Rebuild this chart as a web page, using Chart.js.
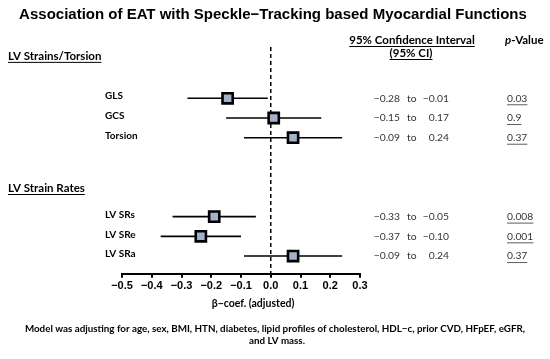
<!DOCTYPE html>
<html>
<head>
<meta charset="utf-8">
<script src="https://cdn.jsdelivr.net/npm/chart.js@4/dist/chart.umd.min.js"></script>
<style>
html,body{margin:0;padding:0;background:#fff;}
#wrap{width:550px;height:359px;}
</style>
</head>
<body>
<div id="wrap"><canvas id="c" width="550" height="359"></canvas></div>
<script>
// ---- data ----
const measures = ['GLS', 'GCS', 'Torsion', 'LV SRs', 'LV SRe', 'LV SRa'];
const rowIndex = [0, 1, 2, 6, 7, 8];
const estimates = [-0.145, 0.01, 0.075, -0.19, -0.235, 0.075];
const ciLow = [-0.28, -0.15, -0.09, -0.33, -0.37, -0.09];
const ciHigh = [-0.01, 0.17, 0.24, -0.05, -0.10, 0.24];
const ciLowText = ['−0.28', '−0.15', '−0.09', '−0.33', '−0.37', '−0.09'];
const ciHighText = ['−0.01', '0.17', '0.24', '−0.05', '−0.10', '0.24'];
const pValues = ['0.03', '0.9', '0.37', '0.008', '0.001', '0.37'];
const groups = [{name: 'LV Strains/Torsion', row: -2.15}, {name: 'LV Strain Rates', row: 4.55}];
const xTickMin = -0.5, xTickMax = 0.3, xTickStep = 0.1;

const fmt = v => {
  if (Math.abs(v) < 1e-9) return '0.0';
  return v.toFixed(1).replace('-', '−');
};

const ciDatasets = measures.map((m, i) => ({
  type: 'line',
  label: m + ' CI',
  data: [{x: ciLow[i], y: rowIndex[i]}, {x: ciHigh[i], y: rowIndex[i]}],
  borderColor: '#000',
  borderWidth: 1.6,
  pointRadius: 0,
  order: 2
}));

const pointDataset = {
  type: 'scatter',
  label: 'β-coef',
  data: measures.map((m, i) => ({x: estimates[i], y: rowIndex[i]})),
  pointStyle: 'rect',
  pointRadius: 7.2,
  backgroundColor: '#a3b2c9',
  borderColor: '#000',
  borderWidth: 2.6,
  order: 1
};

function underline(ctx, x, y, w, lw) {
  ctx.save();
  ctx.beginPath();
  ctx.lineWidth = lw || 1;
  ctx.moveTo(x, y + 0.5);
  ctx.lineTo(x + w, y + 0.5);
  ctx.stroke();
  ctx.restore();
}

const decor = {
  id: 'decor',
  beforeDatasetsDraw(chart) {
    const ctx = chart.ctx, xs = chart.scales.x, a = chart.chartArea;
    const x0 = xs.getPixelForValue(0);
    ctx.save();
    ctx.strokeStyle = '#000';
    ctx.lineWidth = 1.5;
    ctx.setLineDash([4, 3]);
    ctx.beginPath();
    ctx.moveTo(x0, a.top);
    ctx.lineTo(x0, a.bottom);
    ctx.stroke();
    ctx.restore();
  },
  afterDraw(chart) {
    const ctx = chart.ctx, ys = chart.scales.y;
    ctx.save();
    ctx.fillStyle = '#000';
    ctx.strokeStyle = '#000';
    // title
    ctx.textAlign = 'center';
    ctx.textBaseline = 'middle';
    ctx.font = 'bold 15px "Liberation Sans", Arial, sans-serif';
    ctx.fillText('Association of EAT with Speckle−Tracking based Myocardial Functions', 273, 15);

    // group headers
    ctx.textAlign = 'left';
    ctx.font = 'bold 11.5px Lato, "Open Sans", sans-serif';
    groups.forEach(g => {
      const y = ys.getPixelForValue(g.row);
      ctx.fillText(g.name, 8, y);
      const w = ctx.measureText(g.name).width;
      underline(ctx, 8, y + 6, w, 1);
    });

    // column headers
    ctx.font = 'bold 11.5px Lato, "Open Sans", sans-serif';
    ctx.textAlign = 'center';
    const h1 = '95% Confidence Interval', h2 = '(95% CI)';
    ctx.fillText(h1, 412, 40);
    const w1 = ctx.measureText(h1).width;
    underline(ctx, 412 - w1 / 2, 46, w1, 1);
    ctx.fillText(h2, 411, 53);
    const w2 = ctx.measureText(h2).width;
    underline(ctx, 411 - w2 / 2, 59, w2, 1);
    // p-Value
    ctx.textAlign = 'left';
    ctx.font = 'italic bold 11.5px Lato, "Open Sans", sans-serif';
    ctx.fillText('p', 505, 40);
    const pw = ctx.measureText('p').width;
    ctx.font = 'bold 11.5px Lato, "Open Sans", sans-serif';
    ctx.fillText('-Value', 505 + pw, 40);

    // row labels and CI text
    measures.forEach((m, i) => {
      const y = ys.getPixelForValue(rowIndex[i]);
      ctx.fillStyle = '#000';
      ctx.textAlign = 'left';
      ctx.font = 'bold 10px Lato, "Open Sans", sans-serif';
      ctx.fillText(m, 105, y - 2);
      ctx.fillStyle = '#333';
      ctx.font = '10.3px Lato, "Open Sans", sans-serif';
      ctx.textAlign = 'right';
      ctx.fillText(ciLowText[i], 400, y);
      ctx.textAlign = 'left';
      ctx.fillText('to', 407, y);
      ctx.textAlign = 'right';
      ctx.fillText(ciHighText[i], 449, y);
      ctx.textAlign = 'left';
      ctx.fillText(pValues[i], 507, y);
      const pw2 = ctx.measureText(pValues[i]).width;
      ctx.strokeStyle = '#333';
      underline(ctx, 507, y + 6, pw2, 0.8);
    });

    // axis title
    ctx.fillStyle = '#000';
    ctx.textAlign = 'center';
    ctx.font = 'bold 10.5px Lato, "Open Sans", sans-serif';
    ctx.fillText('β−coef. (adjusted)', 253, 304);

    // footnote
    ctx.font = 'bold 9.8px Lato, "Open Sans", sans-serif';
    ctx.fillText('Model was adjusting for age, sex, BMI, HTN, diabetes, lipid profiles of cholesterol, HDL−c, prior CVD, HFpEF, eGFR,', 275, 329);
    ctx.fillText('and LV mass.', 277, 341);
    ctx.restore();
  }
};

new Chart(document.getElementById('c'), {
  data: {datasets: [...ciDatasets, pointDataset]},
  options: {
    responsive: false,
    devicePixelRatio: 1,
    animation: false,
    layout: {padding: {left: 122, right: 190, top: 47, bottom: 64}},
    plugins: {legend: {display: false}, tooltip: {enabled: false}, title: {display: false}},
    scales: {
      x: {
        type: 'linear',
        min: xTickMin,
        max: xTickMax,
        ticks: {
          stepSize: xTickStep,
          color: '#000',
          font: {family: '"Liberation Sans", Arial, sans-serif', size: 11, weight: 'bold'},
          padding: 2,
          callback: v => fmt(v)
        },
        grid: {drawOnChartArea: false, drawTicks: true, tickLength: 4, color: '#000', lineWidth: 2},
        border: {display: true, color: '#000', width: 2}
      },
      y: {
        type: 'linear',
        display: false,
        reverse: true,
        min: -2.6,
        max: 8.9
      }
    }
  },
  plugins: [decor]
});
</script>
</body>
</html>
